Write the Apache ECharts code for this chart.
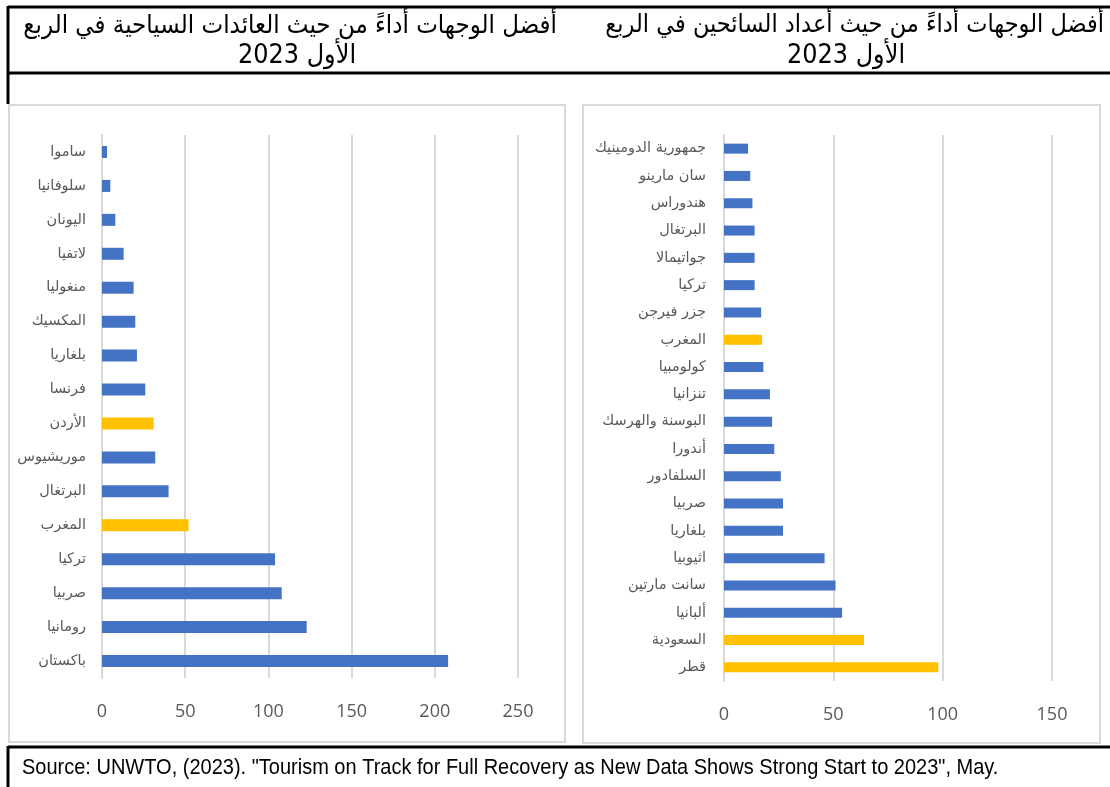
<!DOCTYPE html>
<html>
<head>
<meta charset="utf-8">
<script src="https://cdn.jsdelivr.net/npm/echarts@6/dist/echarts.min.js"></script>
<style>
html,body{margin:0;padding:0;background:#fff;}
#c{width:1110px;height:787px;}
</style>
</head>
<body>
<div id="c"></div>
<script>
// ---- Data ----
const leftTitle1 = 'أفضل الوجهات أداءً من حيث العائدات السياحية في الربع';
const leftTitle2 = 'الأول 2023';
const rightTitle1 = 'أفضل الوجهات أداءً من حيث أعداد السائحين في الربع';
const rightTitle2 = 'الأول 2023';
const sourceText = 'Source: UNWTO, (2023). "Tourism on Track for Full Recovery as New Data Shows Strong Start to 2023", May.';

const leftCategories = ['ساموا','سلوفانيا','اليونان','لاتفيا','منغوليا','المكسيك','بلغاريا','فرنسا','الأردن','موريشيوس','البرتغال','المغرب','تركيا','صربيا','رومانيا','باكستان'];
const leftValues = [3, 5, 8, 13, 19, 20, 21, 26, 31, 32, 40, 52, 104, 108, 123, 208];
const leftHighlight = ['الأردن','المغرب'];
const leftTicks = {min: 0, max: 250, interval: 50};

const rightCategories = ['جمهورية الدومينيك','سان مارينو','هندوراس','البرتغال','جواتيمالا','تركيا','جزر فيرجن','المغرب','كولومبيا','تنزانيا','البوسنة والهرسك','أندورا','السلفادور','صربيا','بلغاريا','اثيوبيا','سانت مارتين','ألبانيا','السعودية','قطر'];
const rightValues = [11, 12, 13, 14, 14, 14, 17, 17.4, 18, 21, 22, 23, 26, 27, 27, 46, 51, 54, 64, 98];
const rightHighlight = ['المغرب','السعودية','قطر'];
const rightTicks = {min: 0, max: 150, interval: 50};

// ---- Styles ----
const BLUE = '#4472C4', GOLD = '#FFC000', GRID = '#d9d9d9', LABEL = '#595959';
const arabicFont = '"DejaVu Sans", "Liberation Sans", sans-serif';

function makeData(cats, vals, hl) {
  return vals.map((v, i) => ({
    value: v,
    itemStyle: {color: hl.indexOf(cats[i]) >= 0 ? GOLD : BLUE}
  }));
}

function xAxisCfg(gridIndex, t) {
  return {
    type: 'value', gridIndex: gridIndex, min: t.min, max: t.max, interval: t.interval,
    axisLine: {show: false}, axisTick: {show: false},
    splitLine: {show: true, lineStyle: {color: GRID, width: 2}},
    axisLabel: {color: LABEL, fontSize: 18, fontFamily: '"Open Sans", sans-serif', margin: 25}
  };
}
function yAxisCfg(gridIndex, cats, margin) {
  return {
    type: 'category', gridIndex: gridIndex, data: cats, inverse: true,
    axisLine: {show: true, lineStyle: {color: GRID, width: 2}},
    axisTick: {show: false},
    axisLabel: {color: LABEL, fontSize: 14.5, fontFamily: arabicFont, margin: margin}
  };
}

const chart = echarts.init(document.getElementById('c'), null, {renderer: 'canvas'});

const lineStyle = {stroke: '#000', lineWidth: 3};
const option = {
  animation: false,
  backgroundColor: '#fff',
  grid: [
    {left: 102, top: 135, width: 416, height: 543},
    {left: 724, top: 135, width: 328, height: 546}
  ],
  xAxis: [xAxisCfg(0, leftTicks), xAxisCfg(1, rightTicks)],
  yAxis: [yAxisCfg(0, leftCategories, 16), yAxisCfg(1, rightCategories, 18)],
  series: [
    {type: 'bar', xAxisIndex: 0, yAxisIndex: 0, barWidth: 12, data: makeData(leftCategories, leftValues, leftHighlight)},
    {type: 'bar', xAxisIndex: 1, yAxisIndex: 1, barWidth: 10, data: makeData(rightCategories, rightValues, rightHighlight)}
  ],
  graphic: [
    // table lines
    {type: 'line', shape: {x1: 8, y1: 7, x2: 1110, y2: 7}, style: lineStyle, silent: true},
    {type: 'line', shape: {x1: 8, y1: 73, x2: 1110, y2: 73}, style: lineStyle, silent: true},
    {type: 'line', shape: {x1: 8, y1: 6, x2: 8, y2: 104}, style: lineStyle, silent: true},
    {type: 'line', shape: {x1: 8, y1: 747, x2: 1110, y2: 747}, style: lineStyle, silent: true},
    {type: 'line', shape: {x1: 8, y1: 746, x2: 8, y2: 787}, style: lineStyle, silent: true},
    // chart panels
    {type: 'rect', shape: {x: 9, y: 105, width: 556, height: 637}, style: {fill: 'none', stroke: GRID, lineWidth: 2}, silent: true, z: -1},
    {type: 'rect', shape: {x: 583, y: 105, width: 517, height: 638}, style: {fill: 'none', stroke: GRID, lineWidth: 2}, silent: true, z: -1},
    // headers
    {type: 'text', x: 557, y: 26, scaleY: 1.1, style: {text: leftTitle1, font: '23px ' + arabicFont, fill: '#000', textAlign: 'right', textVerticalAlign: 'middle'}},
    {type: 'text', x: 297, y: 56, scaleY: 1.1, style: {text: leftTitle2, font: '24px ' + arabicFont, fill: '#000', textAlign: 'center', textVerticalAlign: 'middle'}},
    {type: 'text', x: 1104, y: 26, scaleY: 1.1, style: {text: rightTitle1, font: '22.5px ' + arabicFont, fill: '#000', textAlign: 'right', textVerticalAlign: 'middle'}},
    {type: 'text', x: 846, y: 56, scaleY: 1.1, style: {text: rightTitle2, font: '24px ' + arabicFont, fill: '#000', textAlign: 'center', textVerticalAlign: 'middle'}},
    // source
    {type: 'text', x: 22, y: 768, scaleY: 1.1, style: {text: sourceText, font: '20px "Liberation Sans Narrow", "Liberation Sans", sans-serif', fill: '#000', textAlign: 'left', textVerticalAlign: 'middle'}}
  ]
};
chart.setOption(option);
</script>
</body>
</html>
